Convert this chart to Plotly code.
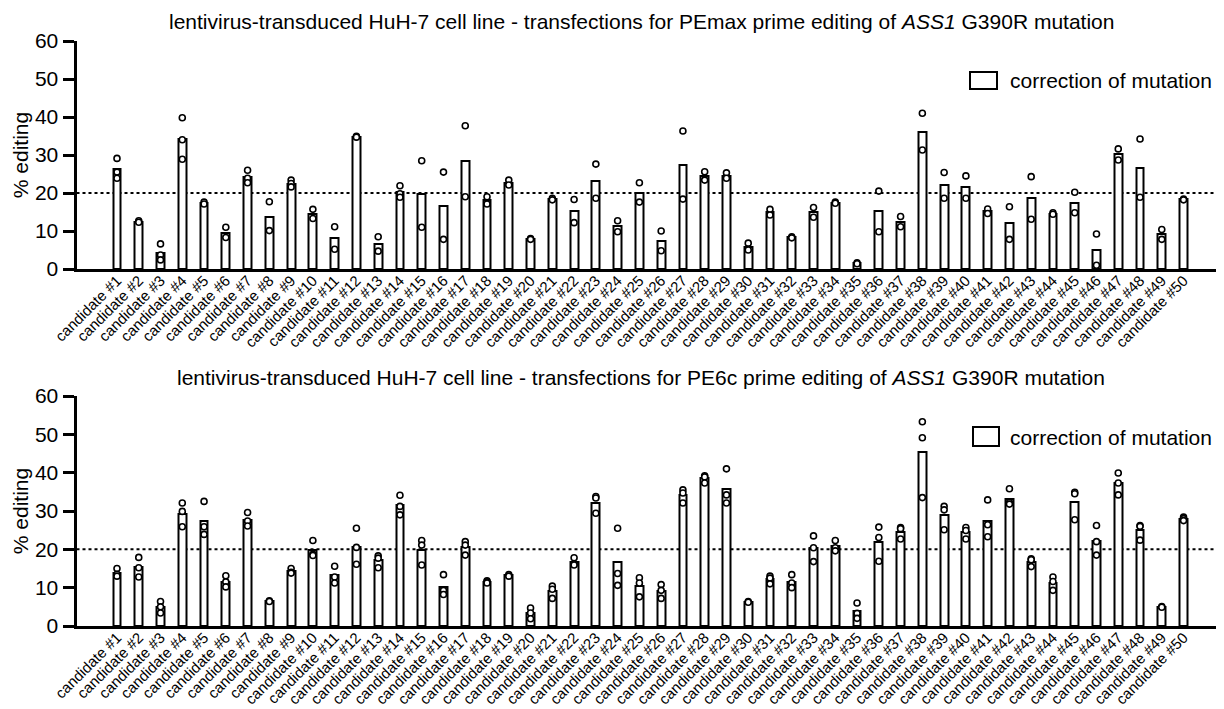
import plotly.graph_objects as go

candidates = [f"candidate #{i}" for i in range(1, 51)]

# PEmax panel: bar = mean, replicates
pemax_mean = [26.2, 12.5, 4.3, 34.2, 17.4, 9.6, 24.2, 13.8, 22.5, 14.5,
              8.1, 34.8, 6.6, 20.2, 19.7, 16.6, 28.3, 18.1, 22.7, 7.9,
              18.4, 15.2, 23.1, 11.2, 20.1, 7.4, 27.3, 24.5, 24.6, 5.9,
              15.0, 8.4, 14.9, 17.5, 1.5, 15.2, 12.4, 36.1, 22.0, 21.5,
              15.2, 12.1, 18.7, 14.6, 17.5, 5.1, 30.2, 26.5, 9.1, 18.3]
pemax_reps = [[29.1, 25.5, 23.9], [12.7, 12.3], [6.6, 3.7, 2.4], [39.8, 34.0, 28.9],
              [17.6, 17.1], [11.0, 8.3], [26.0, 23.9, 22.7], [17.7, 10.1],
              [23.4, 22.5, 21.6], [15.7, 13.3], [11.1, 5.2], [34.9, 34.7],
              [8.5, 4.7], [21.9, 19.8, 18.9], [28.5, 11.0], [25.5, 7.8],
              [37.7, 19.0], [19.0, 17.1], [23.4, 22.1], [8.0, 7.8],
              [18.6, 18.2], [18.3, 12.2], [27.6, 18.6], [12.7, 9.8],
              [22.7, 17.6], [10.0, 4.8], [36.3, 18.4], [25.6, 23.4],
              [25.3, 23.9], [6.8, 5.0], [15.7, 14.2], [8.5, 8.2],
              [16.2, 13.6], [17.6, 17.3], [1.6, 1.4], [20.5, 9.8],
              [13.8, 11.1], [41.0, 31.3], [25.4, 18.6], [24.5, 18.6],
              [15.8, 14.6], [16.4, 7.8], [24.3, 13.1], [14.8, 14.4],
              [20.2, 14.8], [9.2, 1.0], [31.6, 28.7], [34.2, 18.9],
              [10.4, 7.8], [18.4, 18.2]]

# PE6c panel
pe6c_mean = [13.8, 15.3, 4.9, 29.3, 27.4, 11.6, 27.7, 6.5, 14.3, 19.8,
             13.2, 20.7, 17.1, 31.5, 19.8, 10.3, 20.5, 11.5, 13.2, 3.3,
             9.1, 16.6, 32.2, 16.6, 10.5, 9.1, 34.1, 38.5, 35.8, 6.3,
             12.2, 11.5, 20.3, 20.8, 3.8, 22.0, 24.6, 45.3, 28.9, 24.4,
             27.5, 33.1, 16.8, 11.1, 32.4, 22.3, 37.2, 25.0, 5.0, 27.9]
pe6c_reps = [[15.0, 13.5, 13.0], [17.9, 15.2, 12.8], [6.4, 5.0, 3.4], [32.1, 29.9, 25.9],
             [32.5, 25.9, 23.9], [13.1, 11.5, 10.2], [29.6, 27.4, 26.1], [6.6, 6.4],
             [15.0, 14.0, 13.8], [22.3, 18.7, 18.4], [15.6, 12.8, 11.2], [25.5, 20.5, 16.1],
             [18.3, 17.7, 15.2], [34.1, 31.2, 29.0], [22.3, 21.1, 15.9], [13.4, 9.3, 8.2],
             [22.0, 21.1, 18.5], [11.8, 11.5, 11.2], [13.4, 13.0], [4.7, 3.4, 1.9],
             [10.4, 9.6, 7.2], [17.8, 16.2, 15.9], [33.8, 33.4, 29.4], [25.5, 13.7, 10.6],
             [12.6, 11.2, 7.6], [10.8, 9.3, 7.2], [35.5, 34.7, 32.1], [39.2, 38.9, 37.3],
             [41.0, 34.2, 32.1], [6.4, 6.2], [13.0, 12.5, 11.0], [13.4, 11.2, 10.0],
             [23.5, 20.4, 16.8], [22.3, 20.4, 19.6], [6.0, 3.3, 2.0], [25.8, 23.1, 16.9],
             [25.7, 25.4, 22.7], [53.3, 49.1, 33.5], [31.2, 30.3, 25.1], [25.7, 24.9, 22.7],
             [32.9, 26.4, 23.3], [35.8, 32.2, 31.8], [17.5, 17.3, 15.5], [12.8, 11.6, 9.3],
             [34.9, 34.5, 27.7], [26.2, 22.0, 18.5], [39.9, 37.3, 34.2], [26.2, 26.0, 22.4],
             [5.1, 4.9], [28.4, 28.0, 27.5]]

y_ticks = [0, 10, 20, 30, 40, 50, 60]
threshold = 20

FONT = "Liberation Sans, Arial, sans-serif"
# page body has an 8px default margin: figure occupies page pixels 8..1224 x 8..709
OFF = 8
W, H = 1224 - OFF, 709 - OFF


def fx(px):
    return (px - OFF) / W


def fy(py):
    return 1 - (py - OFF) / H


fig = go.Figure()

idx = list(range(len(candidates)))
for means, reps, xa, ya in [(pemax_mean, pemax_reps, "x", "y"), (pe6c_mean, pe6c_reps, "x2", "y2")]:
    fig.add_trace(go.Bar(x=idx, y=means, width=0.36, xaxis=xa, yaxis=ya,
                         marker=dict(color="white", line=dict(color="black", width=2)),
                         name="correction of mutation", showlegend=False))
    px, py = [], []
    for i, r in enumerate(reps):
        for v in r:
            px.append(i)
            py.append(v)
    fig.add_trace(go.Scatter(x=px, y=py, mode="markers", xaxis=xa, yaxis=ya, showlegend=False,
                             marker=dict(symbol="circle", size=6, color="white",
                                         line=dict(color="black", width=1.6))))

xcommon = dict(domain=[fx(76.5), fx(1221)], range=[-1.86, 50.72], tickmode="array",
               tickvals=idx, ticktext=candidates, tickangle=-45, showline=True,
               linewidth=3, linecolor="black", ticks="", showgrid=False, zeroline=False,
               automargin=False, ticklabelstandoff=-6,
               tickfont=dict(family=FONT, size=15, color="black"))
ycommon = dict(range=[0, 60], tickmode="array", tickvals=y_ticks, ticks="outside",
               ticklen=11, tickwidth=3, tickcolor="black", showline=True, linewidth=3,
               linecolor="black", showgrid=False, zeroline=False, automargin=False,
               tickfont=dict(family=FONT, size=21, color="black"),
               title=dict(text="% editing", font=dict(family=FONT, size=21, color="black"), standoff=1))

fig.update_layout(
    width=W, height=H, margin=dict(l=0, r=0, t=0, b=0, autoexpand=False),
    plot_bgcolor="white", paper_bgcolor="white", bargap=0,
    xaxis=dict(anchor="y", **xcommon),
    yaxis=dict(anchor="x", domain=[fy(269), fy(41)], **ycommon),
    xaxis2=dict(anchor="y2", **xcommon),
    yaxis2=dict(anchor="x2", domain=[fy(626), fy(396)], **ycommon),
    font=dict(family=FONT, color="black"),
)

for yr in ["y", "y2"]:
    fig.add_shape(type="line", xref="x domain" if yr == "y" else "x2 domain", yref=yr,
                  x0=0, x1=1, y0=threshold, y1=threshold,
                  line=dict(color="black", width=2, dash="dot"), layer="below")

titles = [("lentivirus-transduced HuH-7 cell line - transfections for PEmax prime editing of <i>ASS1</i> G390R mutation", 8.5, "top"),
          ("lentivirus-transduced HuH-7 cell line - transfections for PE6c prime editing of <i>ASS1</i> G390R mutation", 378, "middle")]
for t, yy, anc in titles:
    fig.add_annotation(text=t, xref="paper", yref="paper", x=fx(641), y=fy(yy),
                       showarrow=False, xanchor="center", yanchor=anc, borderpad=0,
                       font=dict(family=FONT, size=21, color="black"))

# legends
for bx0, by0, bx1, by1, ty in [(970, 72, 997, 89, 80.5), (973, 427, 999, 446, 437)]:
    fig.add_shape(type="rect", xref="paper", yref="paper",
                  x0=fx(bx0), x1=fx(bx1), y0=fy(by1), y1=fy(by0),
                  line=dict(color="black", width=2), fillcolor="white")
    fig.add_annotation(text="correction of mutation", xref="paper", yref="paper",
                       x=fx(1008), y=fy(ty), showarrow=False,
                       xanchor="left", yanchor="middle",
                       font=dict(family=FONT, size=21, color="black"))

fig.write_html("out.html")
